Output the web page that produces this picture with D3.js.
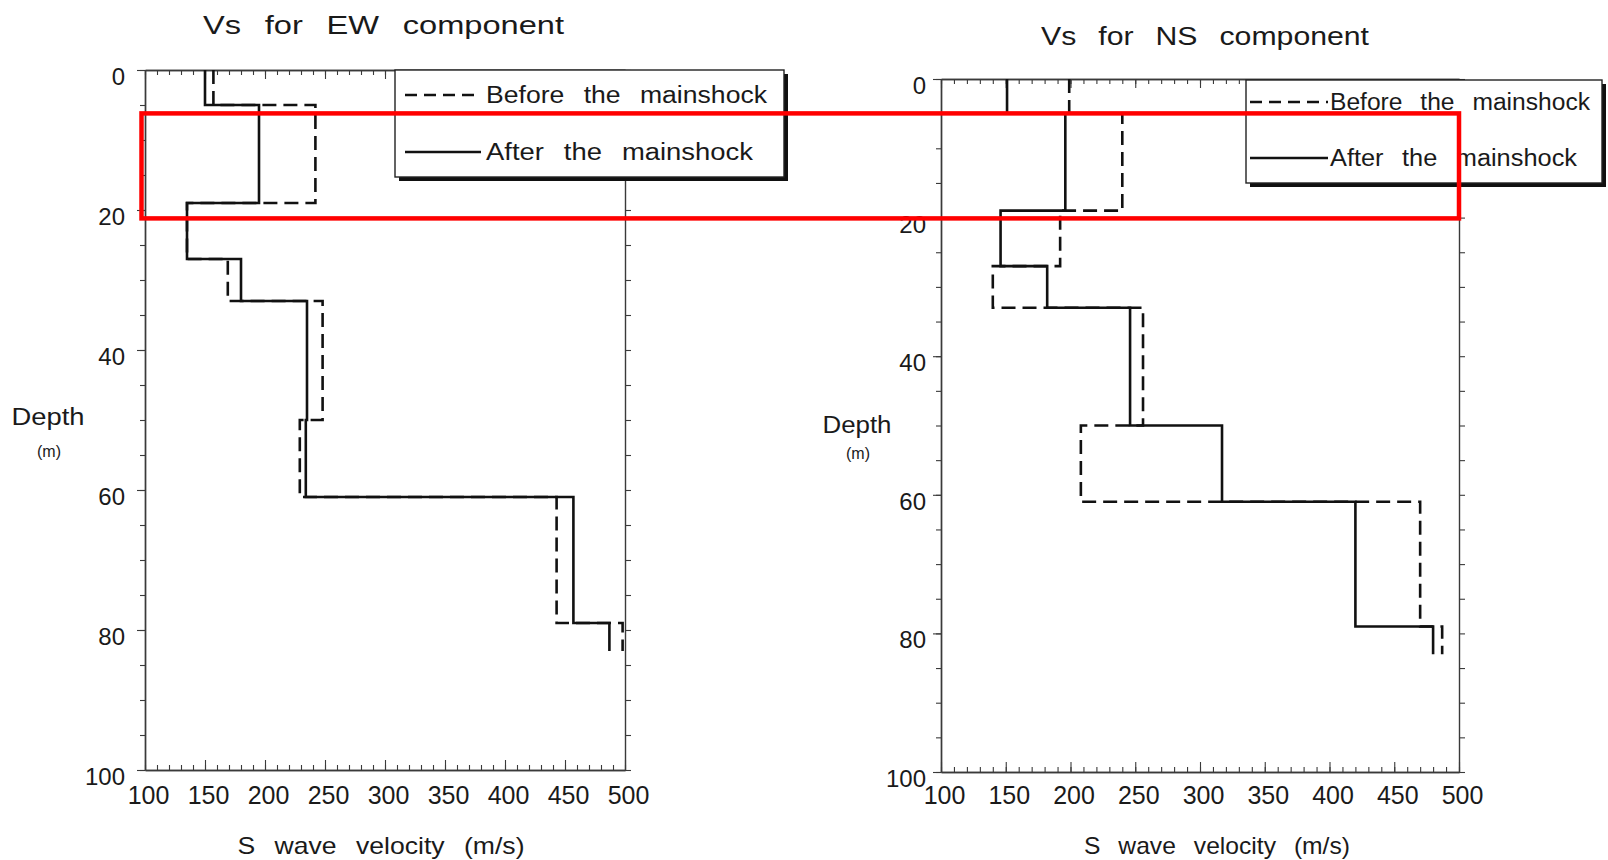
<!DOCTYPE html>
<html>
<head>
<meta charset="utf-8">
<script src="https://cdn.jsdelivr.net/npm/d3@7"></script>
<style>
  html, body { margin: 0; padding: 0; background: #fff; }
  svg { display: block; }
  text { font-family: "Liberation Sans", Arial, sans-serif; fill: #1a1a1a; }
  .wide { word-spacing: 0.45em; }
</style>
</head>
<body>
<svg id="chart" width="1608" height="860"></svg>
<script>
// ---------------- DATA ----------------
const depthEdges = [0, 5, 19, 27, 33, 50, 61, 79, 83];          // layer boundaries (m)
const ewBefore   = [157, 242, 135, 169, 248, 229, 443, 498];       // Vs (m/s) per layer
const ewAfter    = [150, 195, 135, 180, 235, 234, 457, 487];
const nsBefore   = [199, 240, 192, 140, 256, 208, 470, 487];
const nsAfter    = [151, 196, 146, 182, 246, 317, 420, 480];
const xTicks     = [100, 150, 200, 250, 300, 350, 400, 450, 500];
const yTicks     = [0, 20, 40, 60, 80, 100];
const panelTitles = ["Vs for EW component", "Vs for NS component"];
const legendLabels = ["Before the mainshock", "After the mainshock"];
const xTitle = "S wave velocity (m/s)";
const yTitle = "Depth";
const yUnit = "(m)";
const highlightRange = [6.2, 21.2];   // depth range (m) outlined in red

// ---------------- LAYOUT ----------------
const svg = d3.select("#chart");
const panels = [
  { title: panelTitles[0], before: ewBefore, after: ewAfter,
    x: d3.scaleLinear([100, 500], [145, 625]), y: d3.scaleLinear([0, 100], [70, 770]),
    titleX: 383.5, titleY: 34, titleLen: 361,
    legend: { x: 395, y: 70, w: 389, h: 107, lx0: 405, lx1: 481, tx: 486, tLen: [281, 267], ty: [103, 160] },
    xTitleX: 381, xTitleLen: 287, depthX: 48, depthY: 425, depthLen: 73, unitY: 457,
    labelPad: 12, xPad: 16 },
  { title: panelTitles[1], before: nsBefore, after: nsAfter,
    x: d3.scaleLinear([100, 500], [941, 1459]), y: d3.scaleLinear([0, 100], [79, 772]),
    titleX: 1205, titleY: 45, titleLen: 328,
    legend: { x: 1246, y: 80, w: 356, h: 103, lx0: 1250, lx1: 1328, tx: 1330, tLen: [260, 247], ty: [110, 166] },
    xTitleX: 1217, xTitleLen: 266, depthX: 857, depthY: 433, depthLen: 69, unitY: 459,
    labelPad: 7, xPad: 14 }
];

function stepPoints(vals) {
  const pts = [];
  vals.forEach((v, i) => { pts.push([v, depthEdges[i]]); pts.push([v, depthEdges[i + 1]]); });
  return pts;
}

const frameColor = "#3a3a3a";

panels.forEach(p => {
  const g = svg.append("g");
  const [x0, x1] = p.x.range();
  const [y0, y1] = p.y.range();
  const minorX = d3.range(100, 501, 10);
  const minorY = d3.range(0, 101, 5);

  const styleAxis = sel => {
    sel.selectAll("path.domain").attr("stroke", frameColor).attr("stroke-width", 1.3);
    sel.selectAll(".tick line").attr("stroke", frameColor).attr("stroke-width", 1.1);
  };
  // left
  g.append("g").attr("transform", `translate(${x0},0)`)
    .call(d3.axisLeft(p.y).tickValues(minorY).tickSize(5).tickSizeOuter(0).tickFormat(""))
    .call(styleAxis);
  g.append("g").attr("transform", `translate(${x0},0)`)
    .call(d3.axisLeft(p.y).tickValues(yTicks).tickSize(8).tickSizeOuter(0).tickPadding(p.labelPad))
    .call(styleAxis)
    .call(a => a.selectAll("text").attr("font-size", 24).attr("dy", "0.6em").style("fill", "#1a1a1a"));
  // right
  g.append("g").attr("transform", `translate(${x1},0)`)
    .call(d3.axisRight(p.y).tickValues(minorY).tickSize(6).tickSizeOuter(0).tickFormat(""))
    .call(styleAxis);
  // top (ticks pointing inside)
  g.append("g").attr("transform", `translate(0,${y0})`)
    .call(d3.axisTop(p.x).tickValues(minorX).tickSize(-5).tickSizeOuter(0).tickFormat(""))
    .call(styleAxis);
  g.append("g").attr("transform", `translate(0,${y0})`)
    .call(d3.axisTop(p.x).tickValues(xTicks).tickSize(-9).tickSizeOuter(0).tickFormat(""))
    .call(styleAxis);
  // bottom (ticks pointing inside)
  g.append("g").attr("transform", `translate(0,${y1})`)
    .call(d3.axisBottom(p.x).tickValues(minorX).tickSize(-5).tickSizeOuter(0).tickFormat(""))
    .call(styleAxis);
  g.append("g").attr("transform", `translate(0,${y1})`)
    .call(d3.axisBottom(p.x).tickValues(xTicks).tickSize(-10).tickSizeOuter(0).tickPadding(p.xPad))
    .call(styleAxis)
    .call(a => a.selectAll("text").attr("font-size", 25).attr("dx", 3).style("fill", "#1a1a1a"));
  g.selectAll("path.domain").attr("stroke-width", 1.4);

  // profiles
  const line = d3.line().x(d => p.x(d[0])).y(d => p.y(d[1]));
  g.append("path").datum(stepPoints(p.before)).attr("d", line)
    .attr("fill", "none").attr("stroke", "#111").attr("stroke-width", 2.6)
    .attr("stroke-dasharray", "14,7");
  g.append("path").datum(stepPoints(p.after)).attr("d", line)
    .attr("fill", "none").attr("stroke", "#111").attr("stroke-width", 2.6);

  // legend box with drop shadow
  const L = p.legend;
  g.append("rect").attr("x", L.x + 4).attr("y", L.y + 4).attr("width", L.w).attr("height", L.h)
    .attr("fill", "#111");
  g.append("rect").attr("x", L.x).attr("y", L.y).attr("width", L.w).attr("height", L.h)
    .attr("fill", "#fff").attr("stroke", "#222").attr("stroke-width", 1.4);
  legendLabels.forEach((lab, i) => {
    const ly = L.ty[i] - 8;
    g.append("line").attr("x1", L.lx0).attr("x2", L.lx1).attr("y1", ly).attr("y2", ly)
      .attr("stroke", "#111").attr("stroke-width", 2.4)
      .attr("stroke-dasharray", i === 0 ? "12,7" : null);
    g.append("text").attr("class", "wide").attr("x", L.tx).attr("y", L.ty[i]).attr("font-size", 23)
      .attr("textLength", L.tLen[i]).attr("lengthAdjust", "spacingAndGlyphs").text(lab);
  });

  // titles
  g.append("text").attr("class", "wide").attr("x", p.titleX).attr("y", p.titleY).attr("text-anchor", "middle")
    .attr("font-size", 26).attr("textLength", p.titleLen).attr("lengthAdjust", "spacingAndGlyphs")
    .text(p.title);
  g.append("text").attr("class", "wide").attr("x", p.xTitleX).attr("y", 854).attr("text-anchor", "middle")
    .attr("font-size", 24).attr("textLength", p.xTitleLen).attr("lengthAdjust", "spacingAndGlyphs")
    .text(xTitle);
  g.append("text").attr("x", p.depthX).attr("y", p.depthY).attr("text-anchor", "middle")
    .attr("font-size", 23).attr("textLength", p.depthLen).attr("lengthAdjust", "spacingAndGlyphs")
    .text(yTitle);
  g.append("text").attr("x", p.depthX + 1).attr("y", p.unitY).attr("text-anchor", "middle")
    .attr("font-size", 16).text(yUnit);
});

// red highlight annotation
const pL = panels[0], pR = panels[1];
svg.append("rect")
  .attr("x", pL.x(100) - 3.5)
  .attr("y", pL.y(highlightRange[0]))
  .attr("width", pR.x(500) - (pL.x(100) - 3.5))
  .attr("height", pL.y(highlightRange[1]) - pL.y(highlightRange[0]))
  .attr("fill", "none").attr("stroke", "#ff0000").attr("stroke-width", 4.5);
</script>
</body>
</html>
